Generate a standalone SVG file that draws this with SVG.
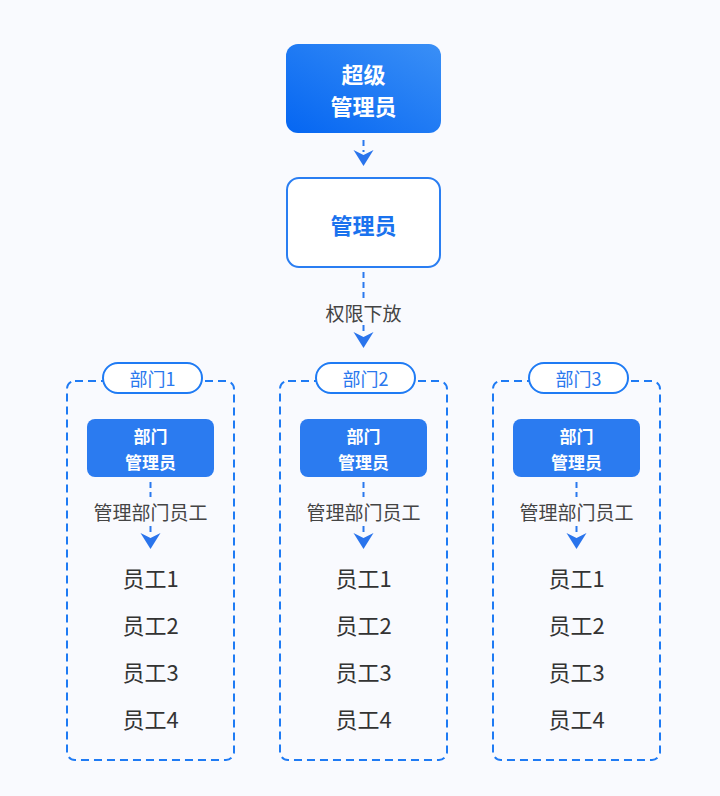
<svg xmlns="http://www.w3.org/2000/svg" xmlns:xlink="http://www.w3.org/1999/xlink" width="720" height="796" viewBox="0 0 720 796">
<defs>
<linearGradient id="sg" x1="0" y1="1" x2="1" y2="0">
<stop offset="0" stop-color="#0566f2"/>
<stop offset="1" stop-color="#3a8ff6"/>
</linearGradient>
<path id="ah" d="M-10,-16 L0,-11 L10,-16 L0,0 Z"/>
<style>
text{font-family:"Noto Sans CJK SC","Noto Sans",sans-serif;text-anchor:middle;dominant-baseline:central}
.wb{fill:#ffffff;font-weight:700}
.bb{fill:#1a72ee;font-weight:700}
.lbl{fill:#444444;font-size:19px}
.emp{fill:#333333;font-size:22px}
.pt{fill:#2a78ee;font-size:18px}
.dash{fill:none;stroke:#1f7bf4;stroke-width:2;stroke-dasharray:8 5}
.conn{fill:none;stroke:#2a78ee;stroke-width:2;stroke-dasharray:6 4}
.ahf{fill:#2a74ec}
.pill{fill:#ffffff;stroke:#1f7bf4;stroke-width:2}
.dadm{fill:#2b7bf0}
.da{font-size:17px}
</style>
</defs>
<rect width="720" height="796" fill="#f9fafe"/>

<g id="super-admin">
<rect x="286" y="44" width="155" height="89" rx="12" fill="url(#sg)"/>
<text class="wb" x="363.5" y="73" font-size="22">超级</text>
<text class="wb" x="363.5" y="105" font-size="22">管理员</text>
</g>

<g id="admin">
<rect x="287" y="178" width="153" height="89" rx="12" fill="#ffffff" stroke="#2a7ef2" stroke-width="2"/>
<text class="bb" x="363.5" y="224" font-size="22">管理员</text>
</g>

<g id="connectors">
<line class="conn" x1="363.5" y1="140" x2="363.5" y2="152"/>
<use href="#ah" class="ahf" transform="translate(363.5,166)"/>
<line class="conn" x1="363.5" y1="272" x2="363.5" y2="298"/>
<text class="lbl" x="363.5" y="312">权限下放</text>
<line class="conn" x1="363.5" y1="325" x2="363.5" y2="335"/>
<use href="#ah" class="ahf" transform="translate(363.5,348)"/>
<line class="conn" x1="150.5" y1="482" x2="150.5" y2="497"/>
<line class="conn" x1="150.5" y1="526" x2="150.5" y2="536"/>
<use href="#ah" class="ahf" transform="translate(150.5,549)"/>
<line class="conn" x1="363.5" y1="482" x2="363.5" y2="497"/>
<line class="conn" x1="363.5" y1="526" x2="363.5" y2="536"/>
<use href="#ah" class="ahf" transform="translate(363.5,549)"/>
<line class="conn" x1="576.5" y1="482" x2="576.5" y2="497"/>
<line class="conn" x1="576.5" y1="526" x2="576.5" y2="536"/>
<use href="#ah" class="ahf" transform="translate(576.5,549)"/>
</g>

<g id="dept1">
<rect class="dash" x="67" y="381" width="167" height="379" rx="8"/>
<rect class="pill" x="103" y="363" width="99" height="30" rx="15"/>
<text class="pt" x="152.5" y="378">部门1</text>
<rect class="dadm" x="87" y="419" width="127" height="58" rx="8"/>
<text class="wb da" x="150.5" y="435">部门</text>
<text class="wb da" x="150.5" y="461">管理员</text>
<text class="lbl" x="150.5" y="511">管理部门员工</text>
<text class="emp" x="150.5" y="577">员工1</text>
<text class="emp" x="150.5" y="624">员工2</text>
<text class="emp" x="150.5" y="671">员工3</text>
<text class="emp" x="150.5" y="718">员工4</text>
</g>

<g id="dept2">
<rect class="dash" x="280" y="381" width="167" height="379" rx="8"/>
<rect class="pill" x="316" y="363" width="99" height="30" rx="15"/>
<text class="pt" x="365.5" y="378">部门2</text>
<rect class="dadm" x="300" y="419" width="127" height="58" rx="8"/>
<text class="wb da" x="363.5" y="435">部门</text>
<text class="wb da" x="363.5" y="461">管理员</text>
<text class="lbl" x="363.5" y="511">管理部门员工</text>
<text class="emp" x="363.5" y="577">员工1</text>
<text class="emp" x="363.5" y="624">员工2</text>
<text class="emp" x="363.5" y="671">员工3</text>
<text class="emp" x="363.5" y="718">员工4</text>
</g>

<g id="dept3">
<rect class="dash" x="493" y="381" width="167" height="379" rx="8"/>
<rect class="pill" x="529" y="363" width="99" height="30" rx="15"/>
<text class="pt" x="578.5" y="378">部门3</text>
<rect class="dadm" x="513" y="419" width="127" height="58" rx="8"/>
<text class="wb da" x="576.5" y="435">部门</text>
<text class="wb da" x="576.5" y="461">管理员</text>
<text class="lbl" x="576.5" y="511">管理部门员工</text>
<text class="emp" x="576.5" y="577">员工1</text>
<text class="emp" x="576.5" y="624">员工2</text>
<text class="emp" x="576.5" y="671">员工3</text>
<text class="emp" x="576.5" y="718">员工4</text>
</g>
</svg>
